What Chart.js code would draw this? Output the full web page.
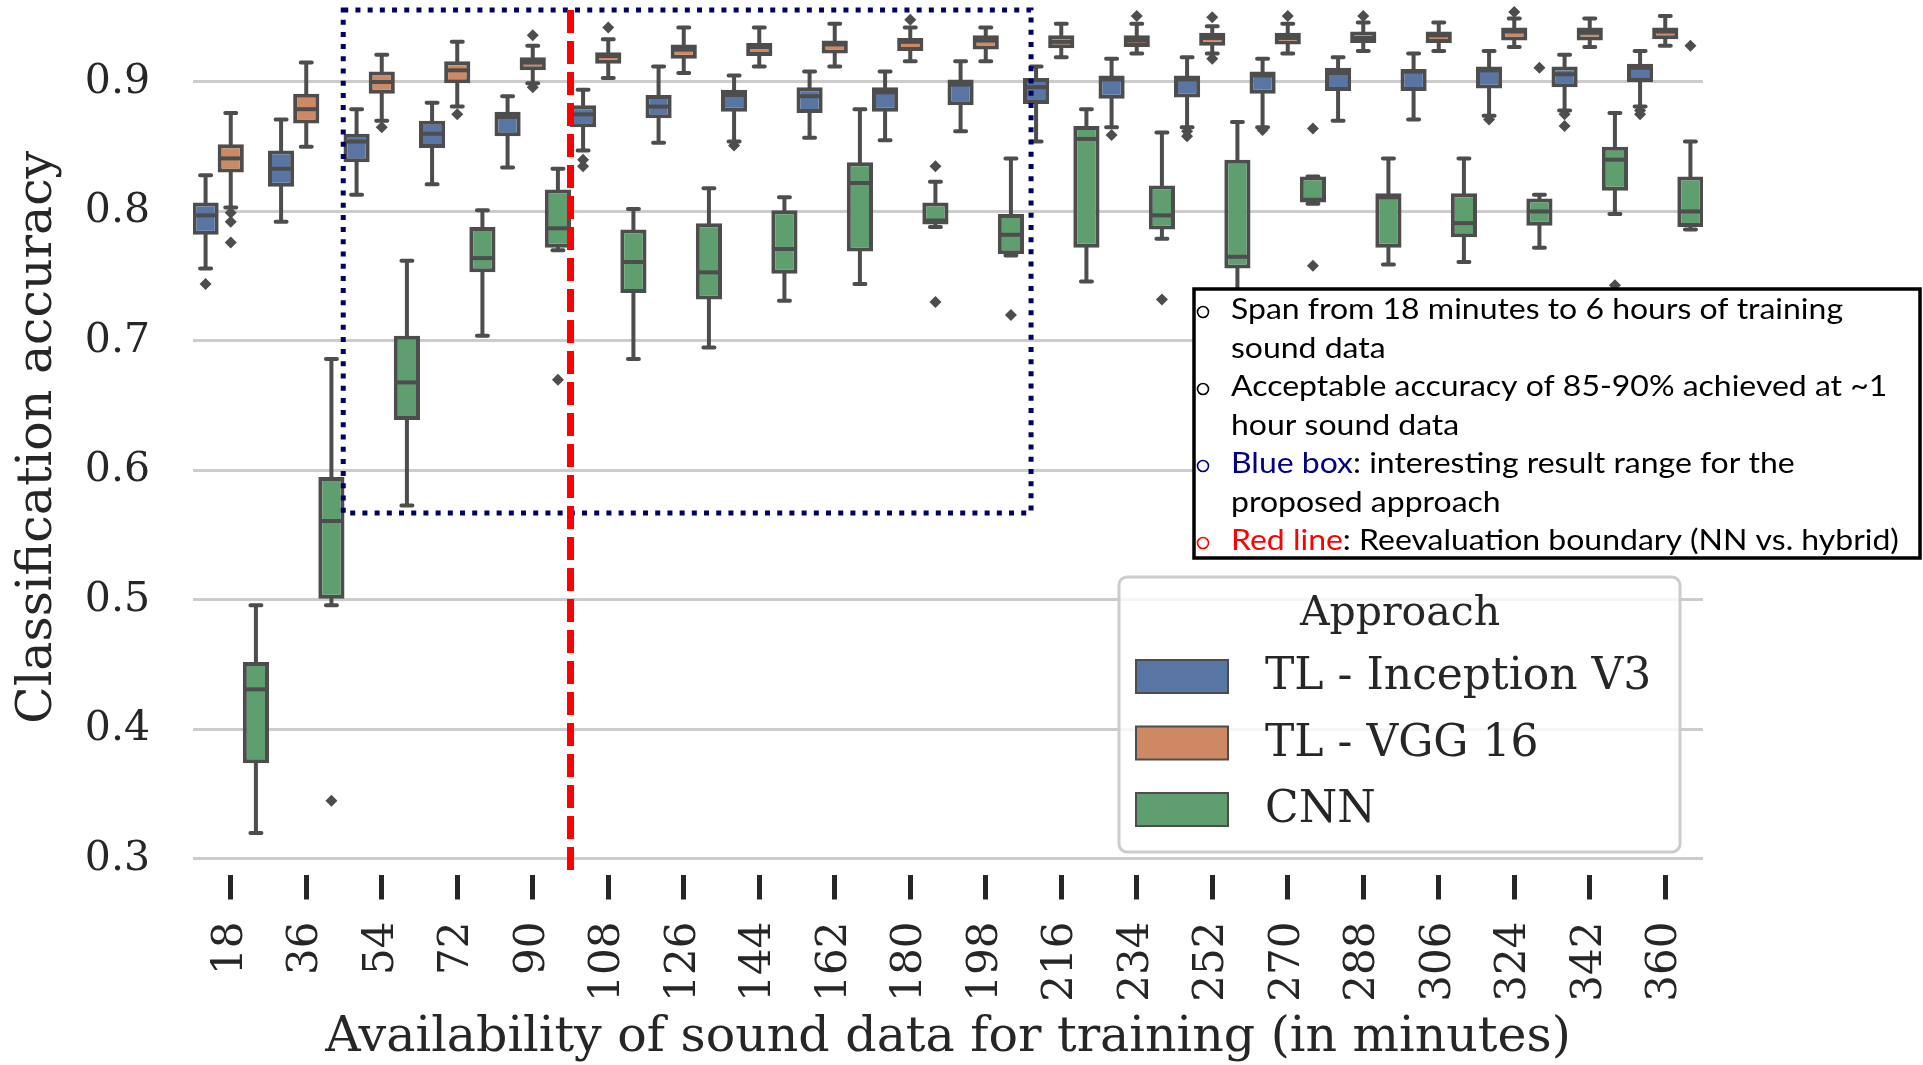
<!DOCTYPE html>
<html>
<head>
<meta charset="utf-8">
<title>Classification accuracy vs training data</title>
<script src="https://cdn.jsdelivr.net/npm/chart.js@4.4.1/dist/chart.umd.min.js"></script>
<style>
  html, body { margin: 0; padding: 0; background: #ffffff; }
  #wrap { width: 1923px; height: 1065px; }
</style>
</head>
<body>
<div id="wrap"><canvas id="accuracyChart" width="1923" height="1065"></canvas></div>
<script>
// minutes of training sound data
const minutes = ['18', '36', '54', '72', '90', '108', '126', '144', '162', '180',
                 '198', '216', '234', '252', '270', '288', '306', '324', '342', '360'];
const yTicks = [0.3, 0.4, 0.5, 0.6, 0.7, 0.8, 0.9];

// TL - Inception V3 (whisker low, q1, median, q3, whisker high, outliers)
const inceptionLow  = [0.756, 0.792, 0.813, 0.821, 0.834, 0.847, 0.853, 0.854, 0.857, 0.855, 0.862, 0.854, 0.865, 0.865, 0.865, 0.870, 0.871, 0.874, 0.878, 0.881];
const inceptionQ1   = [0.782, 0.819, 0.838, 0.849, 0.858, 0.865, 0.872, 0.877, 0.876, 0.877, 0.882, 0.883, 0.887, 0.888, 0.891, 0.893, 0.893, 0.895, 0.896, 0.900];
const inceptionMed  = [0.797, 0.833, 0.854, 0.860, 0.873, 0.875, 0.881, 0.890, 0.889, 0.892, 0.898, 0.896, 0.902, 0.902, 0.905, 0.907, 0.908, 0.909, 0.906, 0.911];
const inceptionQ3   = [0.807, 0.847, 0.860, 0.870, 0.877, 0.882, 0.890, 0.894, 0.896, 0.896, 0.902, 0.903, 0.905, 0.905, 0.908, 0.911, 0.910, 0.912, 0.912, 0.914];
const inceptionHigh = [0.828, 0.871, 0.879, 0.884, 0.889, 0.894, 0.912, 0.905, 0.908, 0.908, 0.916, 0.912, 0.918, 0.919, 0.918, 0.919, 0.922, 0.924, 0.921, 0.924];
const inceptionOut  = [[0.744], [], [], [], [], [0.840, 0.835], [], [0.851], [], [], [], [], [0.859], [0.862, 0.858], [0.863], [], [], [0.871], [0.875, 0.866], [0.878, 0.875]];

// TL - VGG 16
const vggLow  = [0.803, 0.850, 0.870, 0.881, 0.899, 0.903, 0.907, 0.912, 0.912, 0.916, 0.916, 0.919, 0.922, 0.922, 0.922, 0.924, 0.924, 0.927, 0.927, 0.928];
const vggQ1   = [0.830, 0.868, 0.891, 0.899, 0.909, 0.914, 0.918, 0.920, 0.922, 0.924, 0.925, 0.926, 0.927, 0.928, 0.929, 0.930, 0.930, 0.932, 0.932, 0.933];
const vggMed  = [0.841, 0.879, 0.900, 0.909, 0.915, 0.920, 0.925, 0.927, 0.929, 0.931, 0.932, 0.931, 0.932, 0.934, 0.934, 0.934, 0.936, 0.939, 0.938, 0.939];
const vggQ3   = [0.852, 0.891, 0.908, 0.916, 0.919, 0.923, 0.929, 0.930, 0.932, 0.934, 0.936, 0.936, 0.936, 0.938, 0.938, 0.939, 0.939, 0.942, 0.942, 0.942];
const vggHigh = [0.876, 0.915, 0.921, 0.931, 0.928, 0.933, 0.942, 0.942, 0.945, 0.942, 0.942, 0.945, 0.945, 0.943, 0.945, 0.946, 0.946, 0.949, 0.949, 0.951];
const vggOut  = [[0.799, 0.792, 0.776], [], [0.865], [0.875], [0.936, 0.896], [0.942], [], [], [], [0.948], [], [], [0.951], [0.950, 0.918], [0.951], [0.951], [], [0.954], [], []];

// CNN
const cnnLow  = [0.320, 0.496, 0.573, 0.704, 0.770, 0.686, 0.695, 0.731, 0.744, 0.788, 0.766, 0.746, 0.779, 0.720, 0.806, 0.759, 0.761, 0.772, 0.798, 0.786];
const cnnQ1   = [0.374, 0.501, 0.639, 0.753, 0.772, 0.737, 0.732, 0.752, 0.769, 0.790, 0.767, 0.772, 0.786, 0.756, 0.807, 0.772, 0.780, 0.789, 0.816, 0.788];
const cnnMed  = [0.431, 0.561, 0.668, 0.764, 0.787, 0.761, 0.753, 0.771, 0.822, 0.793, 0.782, 0.856, 0.797, 0.765, 0.809, 0.811, 0.791, 0.800, 0.840, 0.800];
const cnnQ3   = [0.452, 0.595, 0.704, 0.788, 0.817, 0.786, 0.791, 0.801, 0.838, 0.807, 0.798, 0.866, 0.820, 0.840, 0.827, 0.814, 0.814, 0.810, 0.850, 0.827];
const cnnHigh = [0.496, 0.686, 0.762, 0.801, 0.833, 0.802, 0.818, 0.811, 0.879, 0.823, 0.841, 0.879, 0.861, 0.869, 0.827, 0.841, 0.841, 0.813, 0.876, 0.854];
const cnnOut  = [[], [0.345], [], [], [0.670], [], [], [], [], [0.835, 0.730], [0.720], [], [0.732], [], [0.864, 0.758], [], [], [0.911], [0.743], [0.928]];

const outlineColor = '#4d4d4d';
const textColor = '#262626';

// overlays, in data units (category index / accuracy)
const redLineAt = 4.5;
const blueBox = { x0: 1.49, x1: 10.6, y0: 0.5672, y1: 0.9556 };

const noteLines = [
    { bullet: '#000000', parts: [['Span from 18 minutes to 6 hours of training', '#000000']] },
    { bullet: null, parts: [['sound data', '#000000']] },
    { bullet: '#000000', parts: [['Acceptable accuracy of 85-90% achieved at ~1', '#000000']] },
    { bullet: null, parts: [['hour sound data', '#000000']] },
    { bullet: '#000080', parts: [['Blue box', '#000080'], [': interesting result range for the', '#000000']] },
    { bullet: null, parts: [['proposed approach', '#000000']] },
    { bullet: '#ff0000', parts: [['Red line', '#ff0000'], [': Reevaluation boundary (NN vs. hybrid)', '#000000']] }
];

function boxDataset(label, color, low, q1, med, q3, high, out) {
    return {
        label: label,
        data: q1.map((v, i) => [v, q3[i]]),
        backgroundColor: color,
        borderColor: outlineColor,
        borderWidth: 4,
        borderSkipped: false,
        stats: { low: low, med: med, high: high, out: out }
    };
}

const boxParts = {
    id: 'boxParts',
    beforeDatasetsDraw(chart) {
        const ctx = chart.ctx;
        const y = chart.scales.y;
        ctx.save();
        ctx.strokeStyle = outlineColor;
        ctx.lineWidth = 4;
        ctx.lineCap = 'round';
        chart.data.datasets.forEach((ds, di) => {
            chart.getDatasetMeta(di).data.forEach((bar, i) => {
                const half = bar.width * 0.21;
                const yHi = y.getPixelForValue(ds.stats.high[i]);
                const yLo = y.getPixelForValue(ds.stats.low[i]);
                ctx.beginPath();
                ctx.moveTo(bar.x, y.getPixelForValue(ds.data[i][1]));
                ctx.lineTo(bar.x, yHi);
                ctx.moveTo(bar.x - half, yHi);
                ctx.lineTo(bar.x + half, yHi);
                ctx.moveTo(bar.x, y.getPixelForValue(ds.data[i][0]));
                ctx.lineTo(bar.x, yLo);
                ctx.moveTo(bar.x - half, yLo);
                ctx.lineTo(bar.x + half, yLo);
                ctx.stroke();
            });
        });
        ctx.restore();
    },
    afterDatasetsDraw(chart) {
        const ctx = chart.ctx;
        const y = chart.scales.y;
        ctx.save();
        ctx.strokeStyle = outlineColor;
        ctx.fillStyle = outlineColor;
        ctx.lineWidth = 4;
        chart.data.datasets.forEach((ds, di) => {
            chart.getDatasetMeta(di).data.forEach((bar, i) => {
                const ym = y.getPixelForValue(ds.stats.med[i]);
                ctx.beginPath();
                ctx.moveTo(bar.x - bar.width / 2 + 2, ym);
                ctx.lineTo(bar.x + bar.width / 2 - 2, ym);
                ctx.stroke();
                ds.stats.out[i].forEach(v => {
                    const yo = y.getPixelForValue(v);
                    ctx.beginPath();
                    ctx.moveTo(bar.x, yo - 6);
                    ctx.lineTo(bar.x + 6, yo);
                    ctx.lineTo(bar.x, yo + 6);
                    ctx.lineTo(bar.x - 6, yo);
                    ctx.closePath();
                    ctx.fill();
                });
            });
        });
        ctx.restore();
    },
    afterDraw(chart) {
        const ctx = chart.ctx;
        const x = chart.scales.x;
        const y = chart.scales.y;
        ctx.save();

        // blue dotted range box
        ctx.strokeStyle = '#000066';
        ctx.lineWidth = 5;
        ctx.setLineDash([5, 7.2]);
        ctx.strokeRect(x.getPixelForValue(blueBox.x0), y.getPixelForValue(blueBox.y1),
            x.getPixelForValue(blueBox.x1) - x.getPixelForValue(blueBox.x0),
            y.getPixelForValue(blueBox.y0) - y.getPixelForValue(blueBox.y1));

        // red dashed boundary
        ctx.strokeStyle = '#ff0000';
        ctx.lineWidth = 7;
        ctx.setLineDash([23, 8]);
        const xr = x.getPixelForValue(redLineAt);
        ctx.beginPath();
        ctx.moveTo(xr, y.getPixelForValue(0.9556));
        ctx.lineTo(xr, chart.chartArea.bottom);
        ctx.stroke();
        ctx.setLineDash([]);

        // note box
        ctx.fillStyle = '#ffffff';
        ctx.fillRect(1193, 288, 728, 271);
        ctx.strokeStyle = '#000000';
        ctx.lineWidth = 3.5;
        ctx.strokeRect(1194, 289, 726, 269);
        ctx.font = '29px Lato';
        ctx.textBaseline = 'alphabetic';
        const sx = 612 / ctx.measureText(noteLines[0].parts[0][0]).width;
        noteLines.forEach((line, k) => {
            const base = 319 + k * 38.5;
            if (line.bullet) {
                ctx.strokeStyle = line.bullet;
                ctx.lineWidth = 1.6;
                ctx.beginPath();
                ctx.arc(1203, base - 7, 5.5, 0, Math.PI * 2);
                ctx.stroke();
            }
            ctx.save();
            ctx.translate(1231, base);
            ctx.scale(sx, 1);
            let cx = 0;
            line.parts.forEach(p => {
                ctx.fillStyle = p[1];
                ctx.fillText(p[0], cx, 0);
                cx += ctx.measureText(p[0]).width;
            });
            ctx.restore();
        });

        // legend
        ctx.fillStyle = 'rgba(255,255,255,0.8)';
        ctx.strokeStyle = '#cccccc';
        ctx.lineWidth = 3;
        ctx.beginPath();
        ctx.roundRect(1119, 577, 561, 275, 8);
        ctx.fill();
        ctx.stroke();
        ctx.fillStyle = textColor;
        ctx.textAlign = 'center';
        ctx.textBaseline = 'middle';
        ctx.font = '41px "DejaVu Serif"';
        ctx.fillText('Approach', 1400, 614);
        ctx.textAlign = 'left';
        ctx.font = '44px "DejaVu Serif"';
        chart.data.datasets.forEach((ds, di) => {
            const top = 660 + di * 66.5;
            ctx.fillStyle = ds.backgroundColor;
            ctx.fillRect(1136, top, 92, 33);
            ctx.strokeStyle = outlineColor;
            ctx.lineWidth = 2;
            ctx.strokeRect(1136, top, 92, 33);
            ctx.fillStyle = textColor;
            ctx.fillText(ds.label, 1265, top + 18);
        });
        ctx.restore();
    }
};

const ctx = document.getElementById('accuracyChart').getContext('2d');
const accuracyChart = new Chart(ctx, {
    type: 'bar',
    data: {
        labels: minutes,
        datasets: [
            boxDataset('TL - Inception V3', '#5875a4', inceptionLow, inceptionQ1, inceptionMed, inceptionQ3, inceptionHigh, inceptionOut),
            boxDataset('TL - VGG 16', '#cc8963', vggLow, vggQ1, vggMed, vggQ3, vggHigh, vggOut),
            boxDataset('CNN', '#5f9e6e', cnnLow, cnnQ1, cnnMed, cnnQ3, cnnHigh, cnnOut)
        ]
    },
    options: {
        responsive: false,
        animation: false,
        devicePixelRatio: 1,
        layout: { padding: { left: 10, right: 220, top: 0, bottom: 0 } },
        datasets: { bar: { categoryPercentage: 1.0, barPercentage: 1.04 } },
        plugins: {
            legend: { display: false },
            tooltip: { enabled: false }
        },
        scales: {
            x: {
                offset: true,
                border: { display: false },
                grid: {
                    offset: false,
                    drawOnChartArea: false,
                    drawTicks: true,
                    tickLength: 25,
                    tickWidth: 5,
                    tickColor: textColor
                },
                ticks: {
                    autoSkip: false,
                    minRotation: 90,
                    maxRotation: 90,
                    padding: 22,
                    color: textColor,
                    font: { family: '"DejaVu Serif"', size: 42 }
                },
                title: {
                    display: true,
                    text: 'Availability of sound data for training (in minutes)',
                    color: textColor,
                    font: { family: '"DejaVu Serif"', size: 49, lineHeight: 1.0 },
                    padding: { top: 0, bottom: 2.5 }
                },
                afterFit(scale) {
                    scale.paddingLeft = 0;
                    scale.paddingRight = 0;
                    scale.height = 190.5;
                }
            },
            y: {
                min: 0.288,
                max: 0.9633,
                border: { display: false },
                grid: { color: '#cccccc', lineWidth: 3, drawTicks: false },
                afterBuildTicks(scale) { scale.ticks = yTicks.map(v => ({ value: v })); },
                ticks: {
                    padding: 43,
                    color: textColor,
                    font: { family: '"DejaVu Serif"', size: 41 },
                    callback: v => v.toFixed(1)
                },
                title: {
                    display: true,
                    text: 'Classification accuracy',
                    color: textColor,
                    font: { family: '"DejaVu Serif"', size: 49, lineHeight: 1.0 },
                    padding: { top: 3.5, bottom: 0 }
                },
                afterFit(scale) {
                    scale.paddingTop = 0;
                    scale.paddingBottom = 0;
                    scale.width = 183;
                }
            }
        }
    },
    plugins: [boxParts]
});
</script>
</body>
</html>
